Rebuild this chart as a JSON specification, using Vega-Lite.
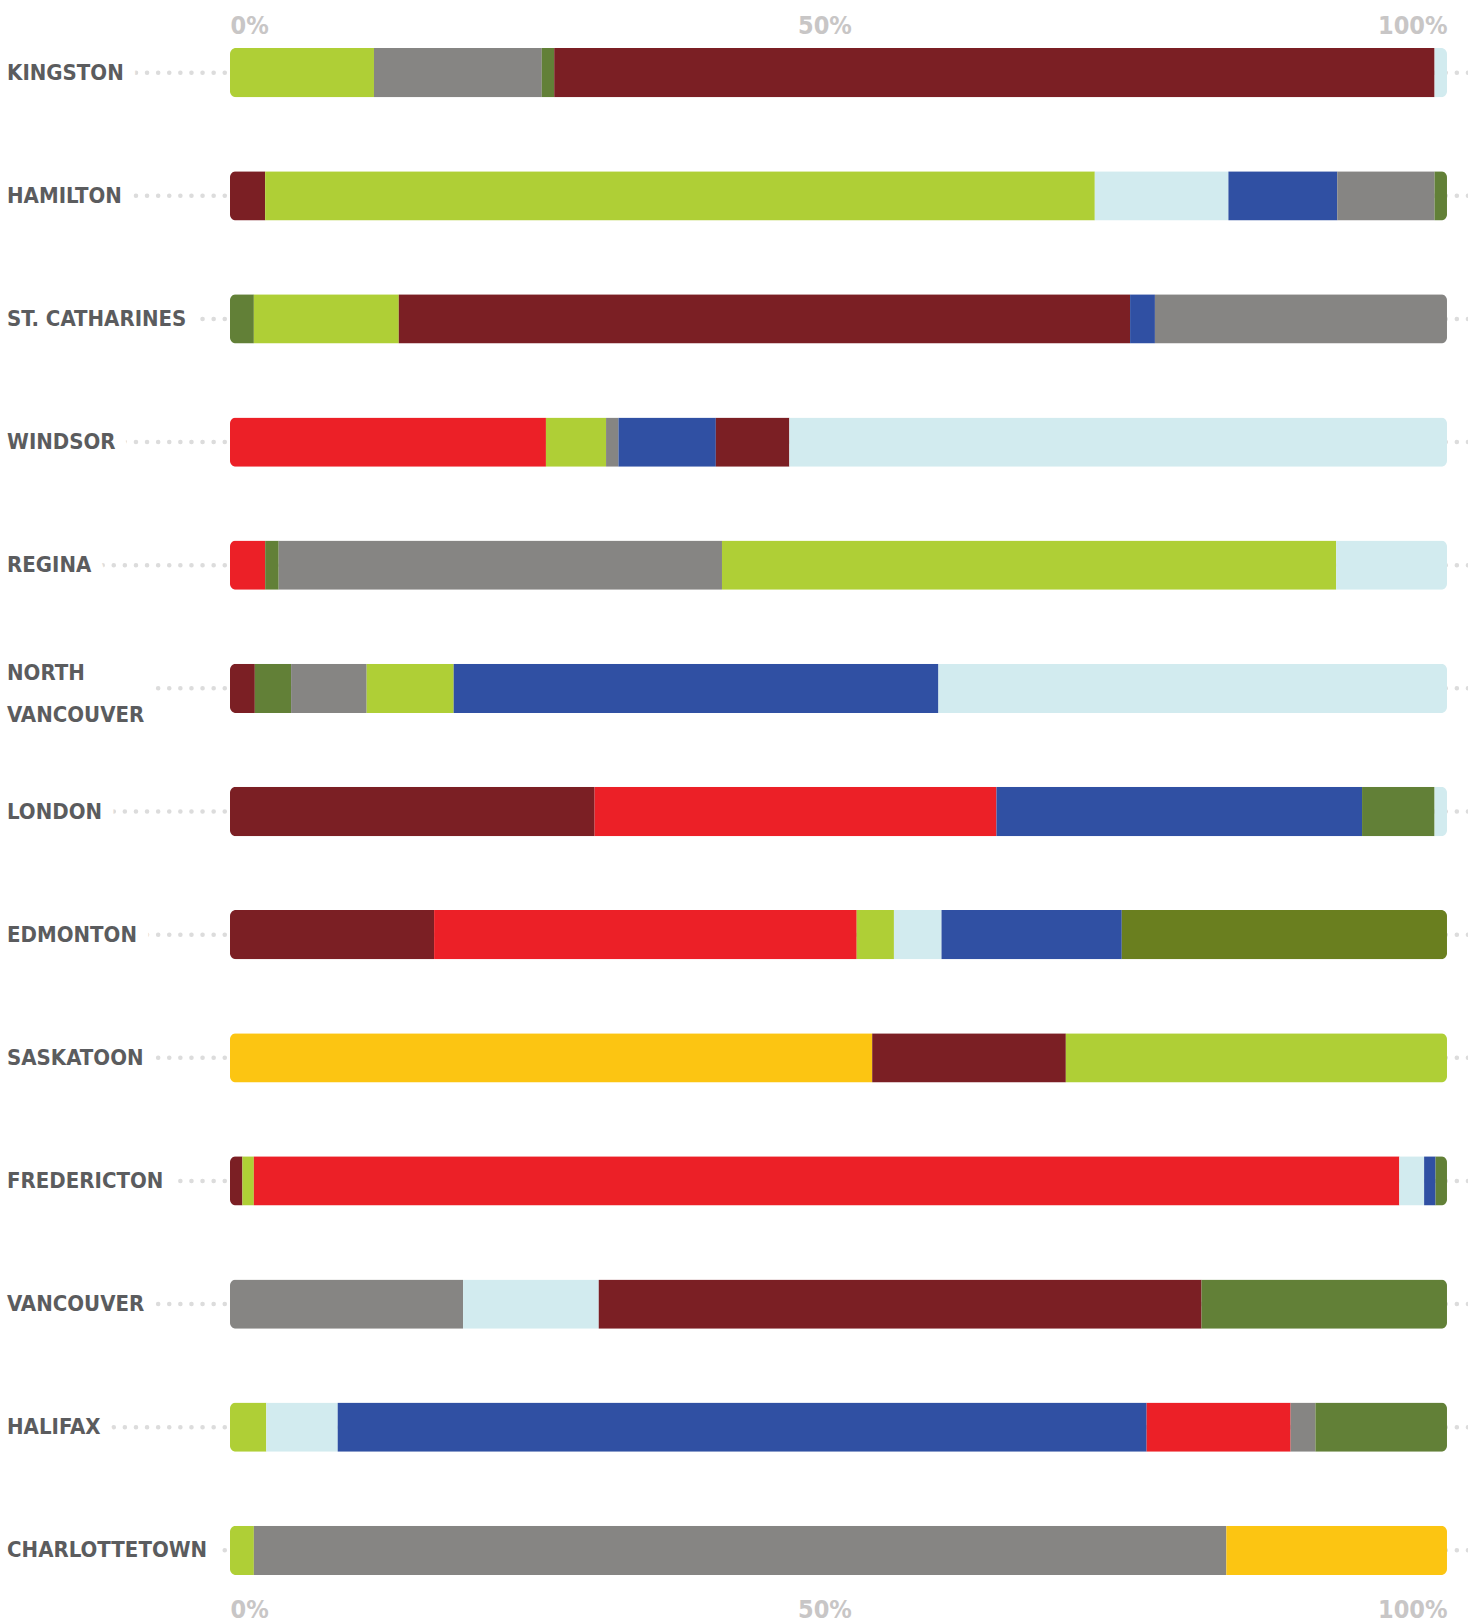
{
  "$schema": "https://vega.github.io/schema/vega-lite/v6.json",
  "width": 1468,
  "height": 1543,
  "autosize": "none",
  "padding": {"top": 40, "bottom": 40, "left": 0, "right": 0},
  "background": "white",
  "config": {"view": {"stroke": null}},
  "datasets": {
    "cities": [
      {"city": "KINGSTON", "label": ["KINGSTON"]},
      {"city": "HAMILTON", "label": ["HAMILTON"]},
      {"city": "ST. CATHARINES", "label": ["ST. CATHARINES"]},
      {"city": "WINDSOR", "label": ["WINDSOR"]},
      {"city": "REGINA", "label": ["REGINA"]},
      {"city": "NORTH VANCOUVER", "label": ["NORTH", "VANCOUVER"]},
      {"city": "LONDON", "label": ["LONDON"]},
      {"city": "EDMONTON", "label": ["EDMONTON"]},
      {"city": "SASKATOON", "label": ["SASKATOON"]},
      {"city": "FREDERICTON", "label": ["FREDERICTON"]},
      {"city": "VANCOUVER", "label": ["VANCOUVER"]},
      {"city": "HALIFAX", "label": ["HALIFAX"]},
      {"city": "CHARLOTTETOWN", "label": ["CHARLOTTETOWN"]}
    ],
    "bars": [
      {"city": "KINGSTON", "cat": "lime", "share": 11.83, "seq": 1},
      {"city": "KINGSTON", "cat": "grey", "share": 13.79, "seq": 2},
      {"city": "KINGSTON", "cat": "olive", "share": 1.02, "seq": 3},
      {"city": "KINGSTON", "cat": "maroon", "share": 72.34, "seq": 4},
      {"city": "KINGSTON", "cat": "pale", "share": 1.02, "seq": 5},
      {"city": "HAMILTON", "cat": "maroon", "share": 2.89, "seq": 1},
      {"city": "HAMILTON", "cat": "lime", "share": 68.17, "seq": 2},
      {"city": "HAMILTON", "cat": "pale", "share": 10.98, "seq": 3},
      {"city": "HAMILTON", "cat": "blue", "share": 8.94, "seq": 4},
      {"city": "HAMILTON", "cat": "grey", "share": 8.0, "seq": 5},
      {"city": "HAMILTON", "cat": "olive", "share": 1.02, "seq": 6},
      {"city": "ST. CATHARINES", "cat": "olive", "share": 1.96, "seq": 1},
      {"city": "ST. CATHARINES", "cat": "lime", "share": 11.91, "seq": 2},
      {"city": "ST. CATHARINES", "cat": "maroon", "share": 60.09, "seq": 3},
      {"city": "ST. CATHARINES", "cat": "blue", "share": 2.04, "seq": 4},
      {"city": "ST. CATHARINES", "cat": "grey", "share": 24.0, "seq": 5},
      {"city": "WINDSOR", "cat": "red", "share": 25.96, "seq": 1},
      {"city": "WINDSOR", "cat": "lime", "share": 4.94, "seq": 2},
      {"city": "WINDSOR", "cat": "grey", "share": 1.02, "seq": 3},
      {"city": "WINDSOR", "cat": "blue", "share": 8.0, "seq": 4},
      {"city": "WINDSOR", "cat": "maroon", "share": 6.04, "seq": 5},
      {"city": "WINDSOR", "cat": "pale", "share": 54.04, "seq": 6},
      {"city": "REGINA", "cat": "red", "share": 2.89, "seq": 1},
      {"city": "REGINA", "cat": "olive", "share": 1.11, "seq": 2},
      {"city": "REGINA", "cat": "grey", "share": 36.43, "seq": 3},
      {"city": "REGINA", "cat": "lime", "share": 50.47, "seq": 4},
      {"city": "REGINA", "cat": "pale", "share": 9.11, "seq": 5},
      {"city": "NORTH VANCOUVER", "cat": "maroon", "share": 2.04, "seq": 1},
      {"city": "NORTH VANCOUVER", "cat": "olive", "share": 2.98, "seq": 2},
      {"city": "NORTH VANCOUVER", "cat": "grey", "share": 6.21, "seq": 3},
      {"city": "NORTH VANCOUVER", "cat": "lime", "share": 7.15, "seq": 4},
      {"city": "NORTH VANCOUVER", "cat": "blue", "share": 39.83, "seq": 5},
      {"city": "NORTH VANCOUVER", "cat": "pale", "share": 41.79, "seq": 6},
      {"city": "LONDON", "cat": "maroon", "share": 29.96, "seq": 1},
      {"city": "LONDON", "cat": "red", "share": 33.02, "seq": 2},
      {"city": "LONDON", "cat": "blue", "share": 30.04, "seq": 3},
      {"city": "LONDON", "cat": "olive", "share": 5.96, "seq": 4},
      {"city": "LONDON", "cat": "pale", "share": 1.02, "seq": 5},
      {"city": "EDMONTON", "cat": "maroon", "share": 16.77, "seq": 1},
      {"city": "EDMONTON", "cat": "red", "share": 34.72, "seq": 2},
      {"city": "EDMONTON", "cat": "lime", "share": 3.06, "seq": 3},
      {"city": "EDMONTON", "cat": "pale", "share": 3.91, "seq": 4},
      {"city": "EDMONTON", "cat": "blue", "share": 14.81, "seq": 5},
      {"city": "EDMONTON", "cat": "moss", "share": 26.72, "seq": 6},
      {"city": "SASKATOON", "cat": "gold", "share": 52.77, "seq": 1},
      {"city": "SASKATOON", "cat": "maroon", "share": 15.91, "seq": 2},
      {"city": "SASKATOON", "cat": "lime", "share": 31.32, "seq": 3},
      {"city": "FREDERICTON", "cat": "maroon", "share": 1.02, "seq": 1},
      {"city": "FREDERICTON", "cat": "lime", "share": 0.94, "seq": 2},
      {"city": "FREDERICTON", "cat": "red", "share": 94.13, "seq": 3},
      {"city": "FREDERICTON", "cat": "pale", "share": 2.04, "seq": 4},
      {"city": "FREDERICTON", "cat": "blue", "share": 0.94, "seq": 5},
      {"city": "FREDERICTON", "cat": "olive", "share": 0.94, "seq": 6},
      {"city": "VANCOUVER", "cat": "grey", "share": 19.15, "seq": 1},
      {"city": "VANCOUVER", "cat": "pale", "share": 11.15, "seq": 2},
      {"city": "VANCOUVER", "cat": "maroon", "share": 49.53, "seq": 3},
      {"city": "VANCOUVER", "cat": "olive", "share": 20.17, "seq": 4},
      {"city": "HALIFAX", "cat": "lime", "share": 2.98, "seq": 1},
      {"city": "HALIFAX", "cat": "pale", "share": 5.87, "seq": 2},
      {"city": "HALIFAX", "cat": "blue", "share": 66.47, "seq": 3},
      {"city": "HALIFAX", "cat": "red", "share": 11.83, "seq": 4},
      {"city": "HALIFAX", "cat": "grey", "share": 2.04, "seq": 5},
      {"city": "HALIFAX", "cat": "olive", "share": 10.81, "seq": 6},
      {"city": "CHARLOTTETOWN", "cat": "lime", "share": 1.96, "seq": 1},
      {"city": "CHARLOTTETOWN", "cat": "grey", "share": 79.91, "seq": 2},
      {"city": "CHARLOTTETOWN", "cat": "gold", "share": 18.13, "seq": 3}
    ]
  },
  "layer": [
    {
      "data": {"name": "cities"},
      "mark": {"type": "rule", "stroke": "#DCDCDC", "strokeWidth": 4.5, "strokeDash": [0.1, 11], "strokeCap": "round"},
      "encoding": {
        "y": {"field": "city", "type": "nominal", "sort": ["KINGSTON", "HAMILTON", "ST. CATHARINES", "WINDSOR", "REGINA", "NORTH VANCOUVER", "LONDON", "EDMONTON", "SASKATOON", "FREDERICTON", "VANCOUVER", "HALIFAX", "CHARLOTTETOWN"], "scale": {"paddingInner": 0.6, "paddingOuter": 0.065}, "axis": null}
      }
    },
    {
      "data": {"name": "cities"},
      "transform": [{"filter": "datum.city != 'NORTH VANCOUVER'"}],
      "mark": {"type": "text", "align": "left", "baseline": "middle", "font": "DejaVu Sans Condensed", "fontSize": 22, "fontWeight": "bold", "fill": "white", "stroke": "white", "strokeWidth": 26, "strokeJoin": "round", "lineHeight": 42},
      "encoding": {
        "y": {"field": "city", "type": "nominal", "sort": ["KINGSTON", "HAMILTON", "ST. CATHARINES", "WINDSOR", "REGINA", "NORTH VANCOUVER", "LONDON", "EDMONTON", "SASKATOON", "FREDERICTON", "VANCOUVER", "HALIFAX", "CHARLOTTETOWN"], "axis": null},
        "x": {"datum": -0.1832, "type": "quantitative",
          "axis": {"orient": "bottom", "values": [0, 0.5, 1], "format": ".0%", "title": null, "ticks": false, "tickSize": 0, "domain": false, "grid": false, "labelFont": "DejaVu Sans Condensed", "labelFontSize": 25, "labelFontWeight": "bold", "labelColor": "#C8C6C6", "labelBaseline": "alphabetic", "labelPadding": 34,
            "labelAlign": {"condition": [{"test": "datum.value <= 0", "value": "left"}, {"test": "datum.value >= 1", "value": "right"}], "value": "center"},
            "labelOffset": {"condition": {"test": "datum.value == 0.5", "value": -14}, "value": 0}}},
        "text": {"field": "label"}
      }
    },
    {
      "data": {"name": "cities"},
      "transform": [{"filter": "datum.city == 'NORTH VANCOUVER'"}],
      "mark": {"type": "text", "align": "left", "baseline": "middle", "dy": -15, "font": "DejaVu Sans Condensed", "fontSize": 22, "fontWeight": "bold", "fill": "white", "stroke": "white", "strokeWidth": 46, "strokeJoin": "round", "lineHeight": 42},
      "encoding": {
        "y": {"field": "city", "type": "nominal", "sort": ["KINGSTON", "HAMILTON", "ST. CATHARINES", "WINDSOR", "REGINA", "NORTH VANCOUVER", "LONDON", "EDMONTON", "SASKATOON", "FREDERICTON", "VANCOUVER", "HALIFAX", "CHARLOTTETOWN"], "axis": null},
        "x": {"datum": -0.1832, "type": "quantitative", "axis": null},
        "text": {"field": "label"}
      }
    },
    {
      "data": {"name": "cities"},
      "transform": [{"filter": "datum.city != 'NORTH VANCOUVER'"}],
      "mark": {"type": "text", "align": "left", "baseline": "middle", "font": "DejaVu Sans Condensed", "fontSize": 22, "fontWeight": "bold", "fill": "#5B5C5E", "lineHeight": 42},
      "encoding": {
        "y": {"field": "city", "type": "nominal", "sort": ["KINGSTON", "HAMILTON", "ST. CATHARINES", "WINDSOR", "REGINA", "NORTH VANCOUVER", "LONDON", "EDMONTON", "SASKATOON", "FREDERICTON", "VANCOUVER", "HALIFAX", "CHARLOTTETOWN"], "axis": null},
        "x": {"datum": -0.1832, "type": "quantitative", "axis": null},
        "text": {"field": "label"}
      }
    },
    {
      "data": {"name": "cities"},
      "transform": [{"filter": "datum.city == 'NORTH VANCOUVER'"}],
      "mark": {"type": "text", "align": "left", "baseline": "middle", "dy": -15, "font": "DejaVu Sans Condensed", "fontSize": 22, "fontWeight": "bold", "fill": "#5B5C5E", "lineHeight": 42},
      "encoding": {
        "y": {"field": "city", "type": "nominal", "sort": ["KINGSTON", "HAMILTON", "ST. CATHARINES", "WINDSOR", "REGINA", "NORTH VANCOUVER", "LONDON", "EDMONTON", "SASKATOON", "FREDERICTON", "VANCOUVER", "HALIFAX", "CHARLOTTETOWN"], "axis": null},
        "x": {"datum": -0.1832, "type": "quantitative", "axis": null},
        "text": {"field": "label"}
      }
    },
    {
      "data": {"name": "bars"},
      "mark": {"type": "bar", "cornerRadius": 6},
      "encoding": {
        "y": {"field": "city", "type": "nominal", "sort": ["KINGSTON", "HAMILTON", "ST. CATHARINES", "WINDSOR", "REGINA", "NORTH VANCOUVER", "LONDON", "EDMONTON", "SASKATOON", "FREDERICTON", "VANCOUVER", "HALIFAX", "CHARLOTTETOWN"], "axis": null},
        "x": {"field": "share", "type": "quantitative", "stack": "normalize",
          "scale": {"domain": [-0.18899, 1.01726], "nice": false, "zero": false},
          "axis": {"orient": "top", "values": [0, 0.5, 1], "format": ".0%", "title": null, "ticks": false, "tickSize": 0, "domain": false, "grid": false, "labelFont": "DejaVu Sans Condensed", "labelFontSize": 25, "labelFontWeight": "bold", "labelColor": "#C8C6C6", "labelBaseline": "alphabetic", "labelPadding": 7,
            "labelAlign": {"condition": [{"test": "datum.value <= 0", "value": "left"}, {"test": "datum.value >= 1", "value": "right"}], "value": "center"},
            "labelOffset": {"condition": {"test": "datum.value == 0.5", "value": -14}, "value": 0}}},
        "color": {"field": "cat", "type": "nominal", "legend": null,
          "scale": {"domain": ["lime", "grey", "maroon", "pale", "blue", "olive", "red", "gold", "moss"], "range": ["#AFCF36", "#868583", "#7B1F24", "#D2EBEF", "#3050A3", "#628037", "#EC2027", "#FCC512", "#6A7F1F"]}},
        "order": {"field": "seq", "type": "quantitative"}
      }
    }
  ],
  "resolve": {"axis": {"x": "independent"}}
}
